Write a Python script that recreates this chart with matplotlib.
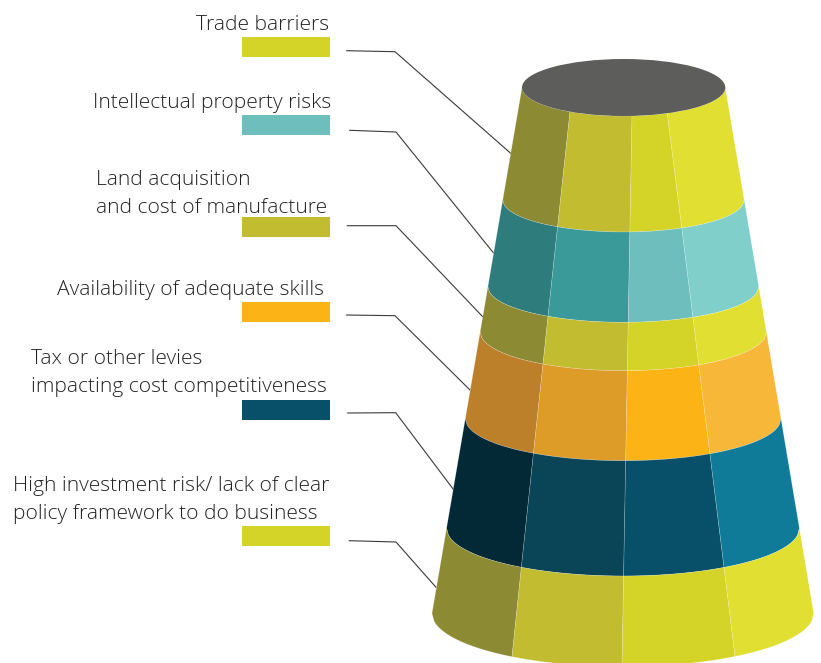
# -*- coding: utf-8 -*-
#Stacked cone of business risks with a callout for every band
import numpy as np
import matplotlib
matplotlib.use('Agg')
import matplotlib.pyplot as plt
from matplotlib.patches import Polygon, Ellipse, Rectangle

categories = ['Trade barriers',
              'Intellectual property risks',
              'Land acquisition\nand cost of manufacture',
              'Availability of adequate skills',
              'Tax or other levies\nimpacting cost competitiveness',
              'High investment risk/ lack of clear\npolicy framework to do business']

#Swatch next to each label
swatchColors = ['#D4D327', '#6EBEBE', '#C2BC30', '#FBB316', '#08506A', '#D4D327']

#Four facets per band, from shaded side to lit side
olive = ['#8D8A34', '#C2BC30', '#D4D327', '#E2DF33']
teal = ['#2F7C7C', '#3A9A9A', '#6EBEBE', '#80CFCB']
orange = ['#BC802A', '#DD9B28', '#FBB316', '#F7B83A']
navy = ['#032836', '#094556', '#08506A', '#107B98']
bandColors = [olive, teal, olive, orange, navy, olive]

#Rim heights and how far each rim curves forward
rimY = [87.5, 200, 286.7, 332, 418.7, 528.3, 613.3]
rimDepth = [28.5, 32, 35.6, 38.7, 42, 47.7, 53.3]

#Cone silhouette, top and bottom
topLeft, topRight = 522.0, 725.3
bottomLeft, bottomRight = 432.0, 813.7

#Facet edges run straight from the top rim to the bottom rim
edgeTop = [570.0, 632.0, 667.3]
edgeBottom = [512.0, 622.0, 735.0]

#Label lines: left edge and first baseline
labelX = [196, 93, 96, 57, 31, 13]
labelY = [30, 108, 185, 295, 364, 491]
swatchY = [37, 115, 217, 302, 400, 526]

#Leader lines: start, elbow, end on the cone
leaderX = [[346.7, 395, 510.7], [349.7, 396, 493.3], [347.3, 396, 482.7],
           [346.7, 395, 470], [347.7, 395.7, 453.3], [349.3, 396, 436]]
leaderY = [[50.7, 51.7, 153.3], [130.3, 132, 252.7], [225.7, 225.7, 316.7],
           [315, 315.7, 390], [413, 412.7, 489.3], [540.7, 542, 587.3]]

plt.rcParams['font.family'] = ['Open Sans', 'DejaVu Sans']


#Linear position along the height of the cone
def alongCone(y, top, bottom):
    return top + (bottom - top) * (y - rimY[0]) / (rimY[-1] - rimY[0])


#Front part of a rim between two x positions
def rimArc(level, x1, x2):
    y = rimY[level]
    left = alongCone(y, topLeft, bottomLeft)
    right = alongCone(y, topRight, bottomRight)
    center = (left + right) / 2
    radius = (right - left) / 2
    xs = np.linspace(x1, x2, 40)
    ys = y + rimDepth[level] * np.sqrt(np.clip(1 - ((xs - center) / radius) ** 2, 0, 1))
    return np.column_stack((xs, ys))


#x positions of all facet borders on one rim
def facetBorders(level):
    y = rimY[level]
    borders = [alongCone(y, topLeft, bottomLeft)]
    for k in range(3):
        borders.append(alongCone(y, edgeTop[k], edgeBottom[k]))
    borders.append(alongCone(y, topRight, bottomRight))
    return borders


fig = plt.figure(figsize=(8.21, 6.63), dpi=100)
ax = fig.add_axes([0, 0, 1, 1])
ax.set_xlim(0, 821)
ax.set_ylim(663, 0)
ax.axis('off')

#Bands of the cone, faint light seams between the facets
for band in range(len(bandColors)):
    upper = facetBorders(band)
    lower = facetBorders(band + 1)
    for k in range(4):
        arcUp = rimArc(band, upper[k], upper[k + 1])
        arcDown = rimArc(band + 1, lower[k], lower[k + 1])
        pts = np.vstack((arcUp, arcDown[::-1]))
        ax.add_patch(Polygon(pts, closed=True, facecolor=bandColors[band][k],
                             edgecolor=(1, 1, 1, 0.3), linewidth=0.4, zorder=2))

#Lid
lidLeft = topLeft
lidRight = topRight
ax.add_patch(Ellipse(((lidLeft + lidRight) / 2, rimY[0]), lidRight - lidLeft,
                     2 * rimDepth[0], facecolor='#5D5D5B', edgecolor='none', zorder=3))

#Labels, swatches and leaders
for i in range(len(categories)):
    for n, line in enumerate(categories[i].split('\n')):
        ax.text(labelX[i], labelY[i] + 28 * n, line, fontsize=15.1, fontweight='light',
                color='#222222', ha='left', va='baseline')
    ax.add_patch(Rectangle((242, swatchY[i]), 88, 20, facecolor=swatchColors[i],
                           edgecolor='none'))
    ax.plot(leaderX[i], leaderY[i], color='#3a3a3a', linewidth=0.8, zorder=1)

fig.savefig('out.png', dpi=100)
